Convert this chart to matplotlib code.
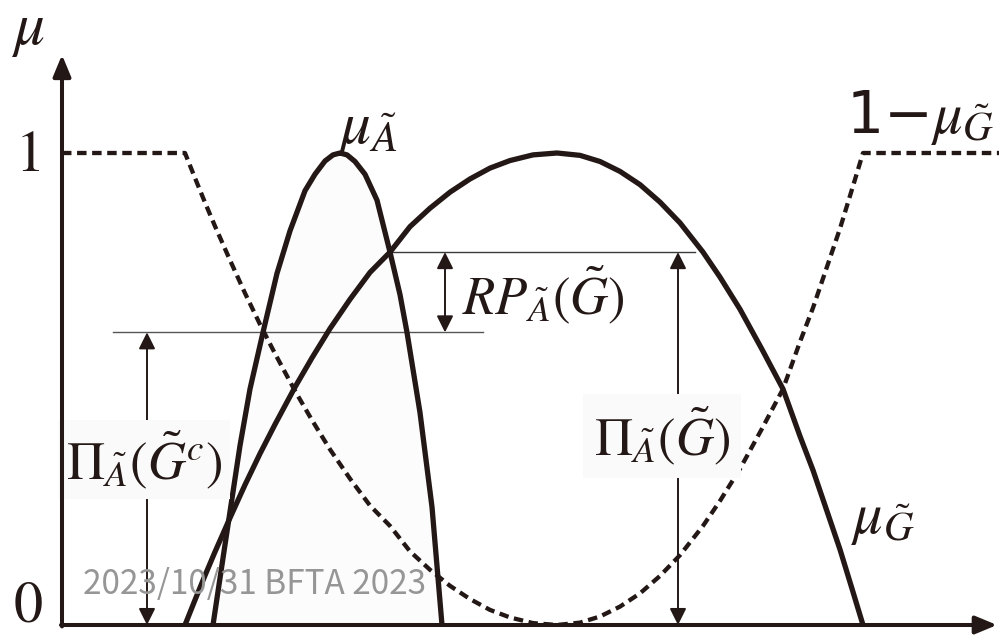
import matplotlib.pyplot as plt

plt.rcParams['mathtext.fontset'] = 'stix'
plt.rcParams['font.family'] = ['STIXGeneral', 'DejaVu Serif']

ink = '#231815'

# membership of G (x in units of the horizontal axis)
gX = [1.23, 1.33, 1.43, 1.53, 1.68, 1.83, 1.98, 2.13, 2.33, 2.50, 2.68, 2.88, 3.08, 3.28,
      3.48, 3.68, 3.88, 4.08, 4.28, 4.48, 4.71, 4.95,
      5.18, 5.38, 5.58, 5.78, 5.98, 6.18, 6.41, 6.58, 6.78, 7.00, 7.21, 7.38, 7.51,
      7.65, 7.78, 7.90, 8.01]
gMu = [0, 0.053, 0.105, 0.155, 0.227, 0.297, 0.363, 0.425, 0.504, 0.566, 0.628, 0.690, 0.747, 0.79,
       0.844, 0.883, 0.917, 0.945, 0.968, 0.984, 0.996, 1.0,
       0.995, 0.982, 0.961, 0.933, 0.896, 0.852, 0.79, 0.737, 0.669, 0.584, 0.50, 0.40, 0.328,
       0.241, 0.16, 0.077, 0]

# membership of A
aX = [1.51, 1.63, 1.78, 1.88, 2.01, 2.15, 2.28, 2.43, 2.53, 2.63, 2.71, 2.78,
      2.85, 2.93, 3.03, 3.15, 3.28, 3.38, 3.45, 3.58, 3.70, 3.80]
aMu = [0, 0.17, 0.38, 0.50, 0.62, 0.745, 0.835, 0.92, 0.955, 0.983, 0.996, 1.0,
       0.996, 0.982, 0.955, 0.90, 0.79, 0.70, 0.62, 0.45, 0.25, 0]

xEnd = 9.37
possG = 0.79      # Pi_A(G)
possGc = 0.62     # Pi_A(G^c)

# complement 1 - mu_G over the whole axis
cX = [0] + gX + [xEnd]
cMu = [1] + [1 - v for v in gMu] + [1]

fig = plt.figure(figsize=(9.99, 6.35), dpi=100)
ax = fig.add_axes([0, 0, 1, 1])
ax.set_xlim(-0.62, xEnd)
ax.set_ylim(-10 / 472, 625 / 472)
ax.axis('off')

ax.fill_between(aX, aMu, 0, color='#fcfcfc', lw=0, zorder=1)
ax.plot(cX, cMu, color=ink, lw=3.1, dashes=(2.2, 1.3), zorder=3)
ax.plot(gX, gMu, color=ink, lw=3.8, solid_capstyle='butt', solid_joinstyle='round', zorder=4)
ax.plot(aX, aMu, color=ink, lw=3.8, solid_capstyle='butt', solid_joinstyle='round', zorder=4)

# reference levels
ax.plot([0.51, 4.21], [possGc, possGc], color='#555555', lw=1.0, zorder=2)
ax.plot([3.28, 6.33], [possG, possG], color='#3a3a3a', lw=1.0, zorder=2)

def vArrow(x, y0, y1):
    ax.annotate('', xy=(x, y1), xytext=(x, y0),
                arrowprops=dict(arrowstyle='<|-|>,head_length=0.5,head_width=0.25',
                                color=ink, lw=1.4, shrinkA=0, shrinkB=0,
                                mutation_scale=20), zorder=2)

vArrow(0.85, 0, possGc)
vArrow(3.83, possGc, possG)
vArrow(6.16, 0, possG)

# axes with arrows
axArrow = dict(arrowstyle='-|>,head_length=0.65,head_width=0.27', color=ink, lw=2.9,
               shrinkA=0, shrinkB=0, mutation_scale=20)
ax.annotate('', xy=(0, 1.208), xytext=(0, -0.003), arrowprops=axArrow, zorder=6)
ax.annotate('', xy=(9.35, 0), xytext=(-0.01, 0), arrowprops=axArrow, zorder=6)

ax.text(-0.34, 1.256, r'$\mu$', fontsize=44, color=ink, ha='center', va='center')
ax.text(-0.32, 0.99, '1', fontsize=42, color=ink, ha='center', va='center')
ax.text(-0.34, -0.02, '0', fontsize=42, color=ink, ha='center', va='bottom')

ax.text(3.05, 1.045, r'$\mu_{\tilde{A}}$', fontsize=44, color=ink, ha='center', va='center')
ax.text(8.58, 1.075, r'1−$\mu_{\tilde{G}}$', fontsize=42, color=ink, ha='center', va='center',
        family=['DejaVu Sans'])
ax.text(8.21, 0.22, r'$\mu_{\tilde{G}}$', fontsize=42, color=ink, ha='center', va='center')

ax.text(4.81, 0.70, r'$RP_{\tilde{A}}(\tilde{G})$', fontsize=38, color=ink,
        ha='center', va='center')
ax.text(6.0, 0.40, r'$\Pi_{\tilde{A}}(\tilde{G})$', fontsize=38, color=ink,
        ha='center', va='center', zorder=5,
        bbox=dict(boxstyle='square,pad=0.2', fc='#fafafa', ec='none'))
ax.text(0.82, 0.35, r'$\Pi_{\tilde{A}}(\tilde{G}^{c})$', fontsize=38, color=ink,
        ha='center', va='center', zorder=5,
        bbox=dict(boxstyle='square,pad=0.15', fc='#fafafa', ec='none'))

ax.text(0.21, 0.085, '2023/10/31 BFTA 2023', fontsize=24, color='#969696',
        ha='left', va='center', family=['Noto Sans CJK JP', 'DejaVu Sans'], zorder=7)

fig.savefig('out.png', dpi=100)
